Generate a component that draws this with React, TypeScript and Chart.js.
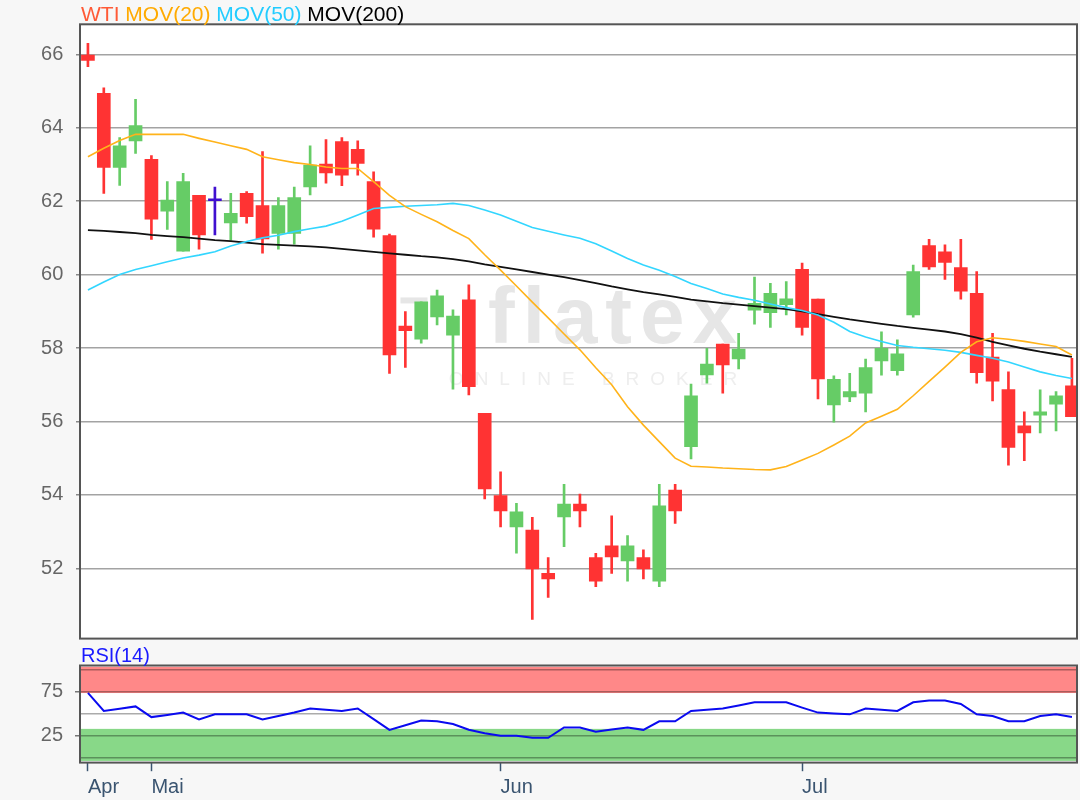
import React, { useEffect, useRef } from "react";
import { Chart, registerables } from "chart.js";

Chart.register(...registerables);

// ---------- data ----------
const openP = [65.98, 64.94, 62.92, 63.64, 63.14, 61.73, 60.64, 62.16, 62.01, 61.41, 62.21, 61.88, 61.12, 61.12, 62.39, 63.01, 63.62, 63.41, 62.53, 61.06, 58.6, 58.24, 58.85, 58.35, 59.31, 56.22, 53.98, 53.13, 53.04, 51.86, 53.4, 53.75, 52.29, 52.61, 52.2, 52.29, 51.65, 54.13, 55.31, 57.27, 58.11, 57.7, 59.03, 58.96, 59.18, 60.14, 59.33, 56.45, 56.67, 56.77, 57.65, 57.38, 58.9, 60.79, 60.62, 60.19, 59.49, 57.75, 56.87, 55.88, 56.17, 56.47, 56.97];
const highP = [66.3, 65.09, 63.73, 64.77, 63.24, 62.53, 62.76, 62.16, 62.38, 62.21, 62.26, 63.35, 62.1, 62.38, 63.51, 63.68, 63.73, 63.64, 62.8, 61.1, 58.99, 59.26, 59.58, 59.04, 59.72, 56.22, 54.63, 53.77, 53.39, 52.29, 54.29, 54.02, 52.41, 53.43, 52.89, 52.5, 54.29, 54.29, 57.02, 57.99, 58.11, 58.4, 59.93, 59.76, 59.81, 60.31, 59.33, 57.24, 57.31, 57.7, 58.44, 58.22, 60.26, 60.96, 60.81, 60.96, 60.08, 58.4, 57.35, 56.26, 56.86, 56.81, 57.72];
const lowP = [65.66, 62.21, 62.43, 63.3, 60.96, 61.23, 60.64, 60.69, 61.08, 60.94, 61.4, 60.58, 60.69, 60.83, 62.17, 62.49, 62.42, 62.71, 61.02, 57.31, 57.47, 58.13, 58.63, 56.88, 56.72, 53.89, 53.13, 52.41, 50.61, 51.21, 52.59, 53.13, 51.5, 51.86, 51.65, 51.71, 51.5, 53.22, 54.98, 57.04, 56.77, 57.43, 58.65, 58.56, 58.9, 58.35, 56.61, 55.98, 56.54, 56.26, 57.26, 57.26, 58.84, 60.14, 59.87, 59.33, 57.04, 56.56, 54.81, 54.93, 55.69, 55.74, 56.13];
const closeP = [65.83, 62.92, 63.51, 64.06, 61.51, 62.03, 62.53, 61.08, 62.01, 61.67, 61.58, 60.97, 61.88, 62.1, 62.98, 62.77, 62.71, 63.03, 61.24, 57.81, 58.47, 59.26, 59.42, 58.87, 56.95, 54.16, 53.56, 53.54, 51.98, 51.71, 53.75, 53.56, 51.65, 52.31, 52.61, 51.98, 53.7, 53.56, 56.7, 57.56, 57.54, 57.97, 59.22, 59.49, 59.34, 58.56, 57.16, 57.15, 56.81, 57.47, 57.99, 57.84, 60.08, 60.21, 60.33, 59.55, 57.33, 57.1, 55.29, 55.69, 56.26, 56.7, 56.13];

const mov20 = [63.21, 63.44, 63.65, 63.82, 63.82, 63.82, 63.82, 63.71, 63.61, 63.51, 63.41, 63.21, 63.13, 63.05, 63.0, 62.93, 62.89, 62.89, 62.53, 62.16, 61.85, 61.64, 61.44, 61.2, 60.98, 60.54, 60.12, 59.69, 59.25, 58.82, 58.38, 57.95, 57.46, 57.0, 56.4, 55.9, 55.45, 55.0, 54.78, 54.76, 54.73, 54.71, 54.69, 54.68, 54.77, 54.95, 55.13, 55.36, 55.6, 55.96, 56.14, 56.33, 56.7, 57.09, 57.48, 57.88, 58.17, 58.28, 58.24, 58.18, 58.11, 58.04, 57.81];
const mov50 = [59.58, 59.8, 60.0, 60.14, 60.24, 60.35, 60.45, 60.53, 60.62, 60.78, 60.9, 61.0, 61.07, 61.17, 61.25, 61.32, 61.45, 61.62, 61.8, 61.83, 61.86, 61.88, 61.9, 61.94, 61.88, 61.76, 61.62, 61.45, 61.28, 61.18, 61.08, 60.99, 60.84, 60.64, 60.44, 60.26, 60.12, 59.95, 59.76, 59.62, 59.47, 59.38, 59.3, 59.2, 59.1, 59.02, 58.9, 58.7, 58.45, 58.3, 58.18, 58.07, 58.02, 57.98, 57.94, 57.88, 57.8, 57.72, 57.62, 57.48, 57.35, 57.25, 57.17];
const mov200 = [61.21, 61.19, 61.16, 61.13, 61.08, 61.05, 61.02, 60.98, 60.94, 60.91, 60.87, 60.83, 60.81, 60.79, 60.77, 60.74, 60.7, 60.66, 60.62, 60.58, 60.54, 60.5, 60.47, 60.42, 60.36, 60.28, 60.21, 60.14, 60.07, 60.0, 59.93, 59.85, 59.77, 59.68, 59.6, 59.52, 59.46, 59.39, 59.32, 59.27, 59.22, 59.18, 59.14, 59.1, 59.06, 59.0, 58.92, 58.85, 58.78, 58.72, 58.66, 58.6, 58.55, 58.5, 58.45, 58.38, 58.28, 58.17, 58.07, 57.98, 57.9, 57.83, 57.76];

const rsi14 = [73.6, 53.3, 55.8, 58.4, 46.3, 48.8, 51.4, 43.6, 49.4, 49.4, 49.4, 43.6, 47.5, 51.4, 56.0, 54.5, 53.3, 56.0, 44.0, 31.9, 37.0, 42.4, 41.6, 38.5, 32.0, 28.0, 25.3, 25.3, 22.9, 22.9, 34.6, 34.6, 29.9, 32.2, 34.6, 31.9, 41.6, 41.6, 53.3, 54.6, 56.0, 59.5, 63.0, 63.0, 63.0, 57.0, 51.4, 50.4, 49.4, 56.0, 54.6, 53.3, 63.0, 65.0, 65.0, 61.1, 49.4, 47.5, 41.6, 41.6, 47.5, 49.4, 46.3];

const monthTickIdx = [0, 4, 26, 45];
const monthLabels = ["Apr", "Mai", "Jun", "Jul"];
const priceTicks = [52, 54, 56, 58, 60, 62, 64, 66];
const rsiTicks = [0, 25, 50, 75, 100];
const rsiLabelled = [25, 75];
const rsiOverbought = [73.5, 103.2];
const rsiOversold = [-3.2, 33];

const legendNames = ["WTI", "MOV(20)", "MOV(50)", "MOV(200)"];
const legendColors = ["#ff5a36", "#ffaa00", "#22ccff", "#000000"];

// ---------- styles ----------
const FONT = "'Liberation Sans', Arial, sans-serif";
const UP = "#66cc66";
const DOWN = "#ff3333";
const FLAT = "#4010d0";
const ORANGE = "#ffb31a";
const CYAN = "#33d6ff";
const BLACK = "#111111";
const FRAME = "#555555";

const noAxisPadding = (s: any) => {
  s.paddingTop = 0;
  s.paddingBottom = 0;
  s.paddingLeft = 0;
  s.paddingRight = 0;
};

const framePlugin = {
  id: "frame",
  afterDraw(chart: any) {
    const { ctx, chartArea: a } = chart;
    ctx.save();
    ctx.strokeStyle = FRAME;
    ctx.lineWidth = 2;
    ctx.strokeRect(a.left, a.top, a.right - a.left, a.bottom - a.top);
    ctx.restore();
  },
};

const mainBg = {
  id: "mainBg",
  beforeDraw(chart: any) {
    const { ctx, chartArea: a } = chart;
    ctx.save();
    ctx.fillStyle = "#ffffff";
    ctx.fillRect(a.left, a.top, a.right - a.left, a.bottom - a.top);
    const cx = (a.left + a.right) / 2;
    const cy = (a.top + a.bottom) / 2;
    // watermark
    ctx.fillStyle = "#e6e6e6";
    ctx.fillRect(cx - 178, cy - 34, 27, 6);
    ctx.font = `bold 80px ${FONT}`;
    (ctx as any).letterSpacing = "8px";
    ctx.textAlign = "center";
    ctx.textBaseline = "alphabetic";
    ctx.fillText("flatex", cx + 38, cy + 12);
    ctx.fillStyle = "#eeeeee";
    ctx.font = `19px ${FONT}`;
    (ctx as any).letterSpacing = "11px";
    ctx.fillText("ONLINE BROKER", cx + 20, cy + 54);
    ctx.restore();
  },
};

const rsiBg = {
  id: "rsiBg",
  beforeDraw(chart: any) {
    const { ctx, chartArea: a, scales } = chart;
    const y = scales.y;
    ctx.save();
    ctx.fillStyle = "#ffffff";
    ctx.fillRect(a.left, a.top, a.right - a.left, a.bottom - a.top);
    const band = (r: number[], color: string) => {
      const y1 = y.getPixelForValue(r[1]);
      const y0 = y.getPixelForValue(r[0]);
      ctx.fillStyle = color;
      ctx.fillRect(a.left, y1, a.right - a.left, y0 - y1);
    };
    band(rsiOverbought, "#ff8888");
    band(rsiOversold, "#88d888");
    ctx.restore();
  },
};

export default function App() {
  const mainRef = useRef<HTMLCanvasElement | null>(null);
  const rsiRef = useRef<HTMLCanvasElement | null>(null);

  useEffect(() => {
    Chart.defaults.font.family = FONT;
    const idx = openP.map((_, i) => i);
    const colors = idx.map((i) =>
      closeP[i] > openP[i] ? UP : closeP[i] < openP[i] ? DOWN : FLAT
    );
    const xMin = -0.5;
    const xMax = 62.32;

    const main = new Chart(mainRef.current as HTMLCanvasElement, {
      type: "bar",
      data: {
        datasets: [
          {
            type: "line",
            label: "MOV(20)",
            data: idx.map((i) => ({ x: i, y: mov20[i] })),
            borderColor: ORANGE,
            borderWidth: 1.6,
            pointRadius: 0,
            tension: 0,
            order: 1,
            clip: 0,
          } as any,
          {
            type: "line",
            label: "MOV(50)",
            data: idx.map((i) => ({ x: i, y: mov50[i] })),
            borderColor: CYAN,
            borderWidth: 1.6,
            pointRadius: 0,
            tension: 0,
            order: 1,
            clip: 0,
          } as any,
          {
            type: "line",
            label: "MOV(200)",
            data: idx.map((i) => ({ x: i, y: mov200[i] })),
            borderColor: BLACK,
            borderWidth: 1.8,
            pointRadius: 0,
            tension: 0,
            order: 1,
            clip: 0,
          } as any,
          {
            type: "bar",
            label: "body",
            data: idx.map((i) => ({ x: i, y: [openP[i], closeP[i]] })),
            backgroundColor: colors,
            borderWidth: 0,
            barThickness: 13,
            minBarLength: 2,
            grouped: false,
            order: 2,
            clip: 0,
          } as any,
          {
            type: "bar",
            label: "wick",
            data: idx.map((i) => ({ x: i, y: [lowP[i], highP[i]] })),
            backgroundColor: colors,
            borderWidth: 0,
            barThickness: 2,
            grouped: false,
            order: 3,
            clip: 0,
          } as any,
        ],
      },
      options: {
        responsive: false,
        animation: false,
        events: [],
        layout: { padding: { top: 24.3, right: 3, bottom: 1.4, left: 0 } },
        scales: {
          x: {
            type: "linear",
            min: xMin,
            max: xMax,
            display: false,
            offset: false,
          },
          y: {
            type: "linear",
            min: 50.085,
            max: 66.817,
            beginAtZero: false,
            afterFit: (s: any) => {
              s.width = 80;
              noAxisPadding(s);
            },
            afterBuildTicks: (s: any) => {
              s.ticks = priceTicks.map((v) => ({ value: v }));
            },
            ticks: {
              autoSkip: false,
              color: "#666666",
              padding: 12.7,
              font: { size: 20, family: FONT },
              callback: (v: any) => String(v),
            },
            grid: {
              color: "#a3a3a3",
              lineWidth: 1.5,
              tickLength: 4,
              tickColor: "#888888",
            },
            border: { display: false },
          },
        },
        plugins: { legend: { display: false }, tooltip: { enabled: false } },
      } as any,
      plugins: [mainBg, framePlugin],
    });

    const rsi = new Chart(rsiRef.current as HTMLCanvasElement, {
      type: "line",
      data: {
        datasets: [
          {
            label: "RSI(14)",
            data: idx.map((i) => ({ x: i, y: rsi14[i] })),
            borderColor: "#0a0af0",
            borderWidth: 2,
            pointRadius: 0,
            tension: 0,
            clip: 0,
          } as any,
        ],
      },
      options: {
        responsive: false,
        animation: false,
        events: [],
        layout: { padding: { top: 25.5, right: 3, bottom: 0, left: 0 } },
        scales: {
          x: {
            type: "linear",
            min: xMin,
            max: xMax,
            offset: false,
            afterFit: (s: any) => {
              s.height = 37.4;
              noAxisPadding(s);
            },
            afterBuildTicks: (s: any) => {
              s.ticks = monthTickIdx.map((v) => ({ value: v }));
            },
            ticks: {
              autoSkip: false,
              maxRotation: 0,
              align: "start",
              padding: 4,
              color: "#3a5470",
              font: { size: 20, family: FONT },
              callback: (_v: any, i: number) => monthLabels[i],
            },
            grid: {
              drawOnChartArea: false,
              drawTicks: true,
              tickLength: 8.6,
              tickColor: "#3a5470",
              tickWidth: 1.5,
            },
            border: { display: false },
          },
          y: {
            type: "linear",
            min: -5.1,
            max: 104.6,
            afterFit: (s: any) => {
              s.width = 80;
              noAxisPadding(s);
            },
            afterBuildTicks: (s: any) => {
              s.ticks = rsiTicks.map((v) => ({ value: v }));
            },
            ticks: {
              autoSkip: false,
              color: "#666666",
              padding: 12,
              font: { size: 20, family: FONT },
              callback: (v: any) => (rsiLabelled.includes(v) ? String(v) : ""),
            },
            grid: {
              color: "rgba(0,0,0,0.33)",
              lineWidth: 1.5,
              tickLength: 5,
              tickColor: (c: any) =>
                c.tick && rsiLabelled.includes(c.tick.value) ? "#777777" : "rgba(0,0,0,0)",
            },
            border: { display: false },
          },
        },
        plugins: { legend: { display: false }, tooltip: { enabled: false } },
      } as any,
      plugins: [rsiBg, framePlugin],
    });

    return () => {
      main.destroy();
      rsi.destroy();
    };
  }, []);

  return (
    <div
      style={{
        position: "fixed",
        left: 0,
        top: 0,
        width: 1080,
        height: 800,
        background: "#f7f7f7",
        overflow: "hidden",
        fontFamily: FONT,
      }}
    >
      <canvas
        ref={mainRef}
        width={1080}
        height={640}
        style={{ position: "absolute", left: 0, top: 0, width: 1080, height: 640 }}
      />
      <canvas
        ref={rsiRef}
        width={1080}
        height={160}
        style={{ position: "absolute", left: 0, top: 640, width: 1080, height: 160 }}
      />
      <div
        style={{
          position: "absolute",
          left: 81,
          top: 2.9,
          fontSize: 21,
          lineHeight: "21px",
          whiteSpace: "pre",
        }}
      >
        {legendNames.map((n, i) => (
          <span key={n} style={{ color: legendColors[i] }}>
            {(i > 0 ? " " : "") + n}
          </span>
        ))}
      </div>
      <div
        style={{
          position: "absolute",
          left: 81,
          top: 644.6,
          fontSize: 20,
          lineHeight: "20px",
          color: "#1a1aff",
        }}
      >
        RSI(14)
      </div>
    </div>
  );
}
